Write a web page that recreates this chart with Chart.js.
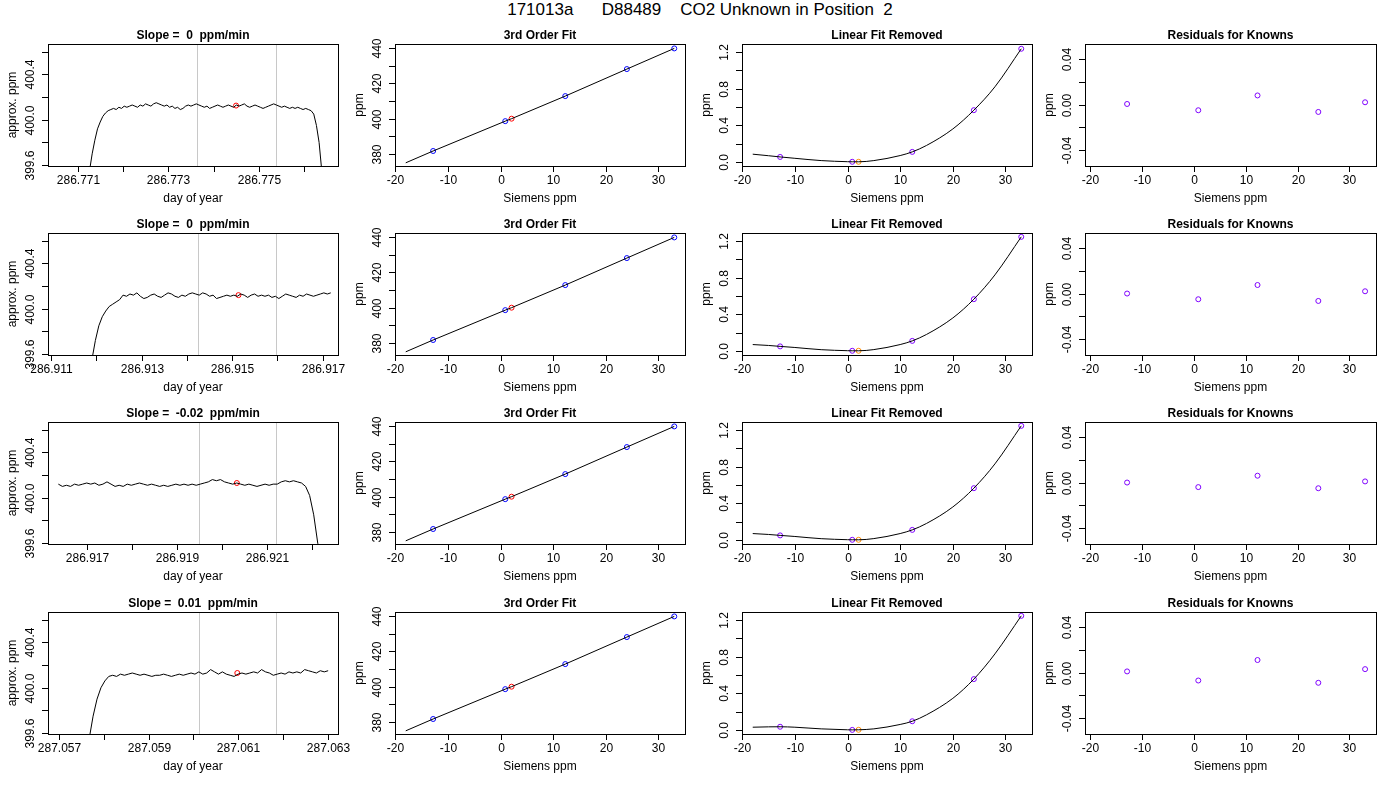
<!DOCTYPE html>
<html>
<head>
<meta charset="utf-8">
<script src="https://cdn.jsdelivr.net/npm/chart.js@4.4.1/dist/chart.umd.min.js"></script>
<style>
  body { margin: 0; background: #fff; width: 1400px; height: 800px; position: relative; overflow: hidden; }
  #title { position: absolute; top: 0px; left: 0; width: 1400px; text-align: center;
           font: 17px "Liberation Sans", Arial, sans-serif; white-space: pre; }
  canvas { position: absolute; }
</style>
</head>
<body>
<div id="title">171013a      D88489    CO2 Unknown in Position  2</div>

<script>
// ---- time series (column 1) ----
const slopeTitles = ['Slope =  0  ppm/min', 'Slope =  0  ppm/min', 'Slope =  -0.02  ppm/min', 'Slope =  0.01  ppm/min'];
const timeRanges = [[286.77033, 286.77676], [286.91093, 286.91734], [286.91613, 286.92258], [287.05675, 287.06323]];
const seriesSpans = [[286.77125, 286.77640], [286.91190, 286.91718], [286.91636, 286.92222], [287.05767, 287.06301]];
const windowLines = [[286.77364, 286.77538], [286.91425, 286.91597], [286.91949, 286.92120], [287.06013, 287.06185]];
const unknownPoints = [[286.7745, 400.125], [286.91514, 400.12], [286.92033, 400.13], [287.06098, 400.13]];
const timeTicks = [
  [286.771, 286.772, 286.773, 286.774, 286.775, 286.776],
  [286.911, 286.912, 286.913, 286.914, 286.915, 286.916, 286.917],
  [286.917, 286.918, 286.919, 286.920, 286.921, 286.922],
  [287.057, 287.058, 287.059, 287.060, 287.061, 287.062, 287.063]
];
const timeLabels = [
  ['286.771', '', '286.773', '', '286.775', ''],
  ['286.911', '', '286.913', '', '286.915', '', '286.917'],
  ['286.917', '', '286.919', '', '286.921', ''],
  ['287.057', '', '287.059', '', '287.061', '', '287.063']
];
const ppmRow1 = [399.55, 399.70, 399.82, 399.92, 399.98, 400.03, 400.06, 400.08, 400.09,
  400.10,400.09,400.11,400.10,400.12,400.11,400.12,400.13,400.12,400.11,
  400.13,400.12,400.14,400.13,400.12,400.14,400.15,400.14,400.13,400.12,
  400.13,400.11,400.12,400.10,400.11,400.09,400.10,400.12,400.13,400.12,
  400.13,400.14,400.13,400.12,400.11,400.12,400.10,400.11,400.12,400.13,
  400.12,400.11,400.12,400.13,400.12,400.11,400.13,400.12,400.13,400.14,
  400.12,400.11,400.12,400.13,400.12,400.11,400.10,400.11,400.12,400.13,
  400.14,400.13,400.12,400.11,400.12,400.11,400.10,400.11,400.10,400.11,
  400.10,400.09,400.10,400.09,400.08,
  400.05, 399.95, 399.80, 399.55];
const ppmRow2 = [399.55,399.72,399.85,399.93,399.98,400.02,400.04,400.06,400.08,400.12,
  400.11,400.13,400.12,400.14,400.11,400.09,400.10,400.12,400.13,400.11,
  400.10,400.12,400.14,400.13,400.11,400.10,400.12,400.11,400.13,400.14,
  400.13,400.12,400.14,400.13,400.11,400.12,400.09,400.10,400.11,400.12,
  400.11,400.12,400.11,400.13,400.12,400.10,400.12,400.13,400.11,400.12,
  400.11,400.12,400.10,400.11,400.09,400.11,400.13,400.12,400.11,400.10,
  400.12,400.11,400.13,400.12,400.11,400.12,400.13,400.14,400.13,400.14];
const ppmRow3 = [400.12,400.10,400.11,400.10,400.12,400.11,400.12,400.13,400.12,400.13,
  400.11,400.12,400.14,400.12,400.10,400.11,400.10,400.12,400.11,400.12,
  400.13,400.12,400.11,400.12,400.11,400.10,400.11,400.10,400.11,400.12,
  400.11,400.12,400.11,400.12,400.11,400.12,400.13,400.14,400.16,400.15,
  400.16,400.14,400.13,400.12,400.13,400.12,400.11,400.12,400.11,400.10,
  400.11,400.12,400.11,400.12,400.12,400.14,400.15,400.14,400.15,400.14,
  400.13, 400.10, 400.02, 399.85, 399.60, 399.45];
const ppmRow4 = [399.55,399.75,399.90,400.00,400.06,400.10,400.11,400.10,
  400.12,400.11,400.12,400.13,400.12,400.11,400.12,400.11,400.10,400.11,
  400.11,400.12,400.11,400.10,400.11,400.12,400.11,400.12,400.13,400.12,
  400.14,400.12,400.13,400.16,400.14,400.12,400.14,400.12,400.11,400.10,
  400.12,400.13,400.12,400.13,400.14,400.13,400.16,400.14,400.13,400.11,
  400.12,400.13,400.12,400.14,400.13,400.14,400.13,400.16,400.15,400.14,
  400.13,400.15,400.14,400.15];
const ppmRows = [ppmRow1, ppmRow2, ppmRow3, ppmRow4];

// ---- calibration (columns 2-4) ----
const knownX = [-12.8, 0.9, 12.3, 24.0, 33.0];
const unknownX = 2.1;
const fitLineX = [-18, -12.8, 0.9, 2.1, 12.3, 24.0, 33.0];
const fitLineY = [375.0, 381.7, 398.6, 400.0, 412.8, 428.1, 439.8];
const knownPpm = [381.7, 398.6, 412.8, 428.1, 439.8];
const unknownPpm = 400.0;

const curveX = [-18, -15, -12.8, -10, -5, 0, 0.9, 2.1, 5, 10, 12.3, 15, 20, 24, 28, 33];
const curveRows = [
  [0.085, 0.068, 0.055, 0.040, 0.015, 0.003, 0.002, 0.002, 0.015, 0.070, 0.110, 0.180, 0.360, 0.565, 0.820, 1.235],
  [0.070, 0.060, 0.050, 0.038, 0.014, 0.003, 0.002, 0.002, 0.015, 0.070, 0.110, 0.180, 0.360, 0.565, 0.830, 1.245],
  [0.070, 0.060, 0.050, 0.038, 0.014, 0.003, 0.002, 0.002, 0.015, 0.070, 0.110, 0.180, 0.360, 0.565, 0.830, 1.245],
  [0.030, 0.034, 0.035, 0.030, 0.012, 0.002, 0.001, 0.002, 0.012, 0.060, 0.095, 0.165, 0.345, 0.555, 0.830, 1.245]
];
const curvePointIdx = [2, 6, 10, 13, 15];   // where the knowns sit on the curve
const residualRows = [
  [0.0005, -0.005, 0.008, -0.0065, 0.002],
  [0.000, -0.005, 0.0075, -0.0065, 0.002],
  [0.000, -0.004, 0.006, -0.005, 0.001],
  [0.001, -0.007, 0.011, -0.009, 0.003]
];

const rowTops = [44, 233, 422, 612];
const colLefts = [48, 395, 742, 1085];
const colWidths = [290, 290, 290, 291];
const boxH = 122;
const FONT = '"Liberation Sans", Arial, sans-serif';

// R-style frame, ticks, rotated y labels, titles
const rAxes = {
  id: 'rAxes',
  afterDraw(chart) {
    const o = chart.options.plugins.rAxes;
    const ctx = chart.ctx, a = chart.chartArea;
    const xs = chart.scales.x, ys = chart.scales.y;
    ctx.save();
    ctx.strokeStyle = '#000'; ctx.lineWidth = 1; ctx.fillStyle = '#000';
    ctx.font = '12px ' + FONT;
    ctx.strokeRect(Math.round(a.left) + 0.5, Math.round(a.top) + 0.5, Math.round(a.width), Math.round(a.height));
    ctx.textAlign = 'center'; ctx.textBaseline = 'top';
    o.xTicks.forEach((v, i) => {
      const px = Math.round(xs.getPixelForValue(v)) + 0.5;
      ctx.beginPath(); ctx.moveTo(px, a.bottom); ctx.lineTo(px, a.bottom + 6); ctx.stroke();
      if (o.xLabels[i]) ctx.fillText(o.xLabels[i], px, a.bottom + 9);
    });
    o.yTicks.forEach((v, i) => {
      const py = Math.round(ys.getPixelForValue(v)) + 0.5;
      ctx.beginPath(); ctx.moveTo(a.left, py); ctx.lineTo(a.left - 6, py); ctx.stroke();
      if (o.yLabels[i]) {
        ctx.save(); ctx.translate(a.left - 17, py); ctx.rotate(-Math.PI / 2);
        ctx.textBaseline = 'middle'; ctx.fillText(o.yLabels[i], 0, 0); ctx.restore();
      }
    });
    ctx.fillText(o.xTitle, (a.left + a.right) / 2, a.bottom + 27);
    ctx.save(); ctx.translate(a.left - 35, (a.top + a.bottom) / 2); ctx.rotate(-Math.PI / 2);
    ctx.textBaseline = 'middle'; ctx.fillText(o.yTitle, 0, 0); ctx.restore();
    ctx.font = 'bold 12px ' + FONT; ctx.textBaseline = 'alphabetic';
    ctx.fillText(o.title, (a.left + a.right) / 2, a.top - 5);
    ctx.restore();
  },
  beforeDatasetsDraw(chart) {
    const o = chart.options.plugins.rAxes;
    if (!o.vLines) return;
    const ctx = chart.ctx, a = chart.chartArea;
    ctx.save(); ctx.strokeStyle = '#c8c8c8'; ctx.lineWidth = 1;
    o.vLines.forEach(v => {
      const px = Math.round(chart.scales.x.getPixelForValue(v)) + 0.5;
      ctx.beginPath(); ctx.moveTo(px, a.top); ctx.lineTo(px, a.bottom); ctx.stroke();
    });
    ctx.restore();
  }
};

function lineSet(pts, smooth) {
  return { data: pts, showLine: true, borderColor: '#000', borderWidth: 1, pointRadius: 0,
           tension: smooth ? 0.4 : 0, cubicInterpolationMode: smooth ? 'monotone' : 'default' };
}
function pointSet(pts, color) {
  return { data: pts, showLine: false, pointRadius: 2.5, pointBorderWidth: 1,
           pointBackgroundColor: 'rgba(0,0,0,0)', pointBorderColor: color };
}
function zip(xs, ys) { return xs.map((x, i) => ({ x: x, y: ys[i] })); }

function panel(row, col, datasets, xr, yr, axes) {
  const c = document.createElement('canvas');
  const w = colWidths[col] + 80, h = boxH + 70;
  c.width = w; c.height = h;
  c.style.left = (colLefts[col] - 50) + 'px';
  c.style.top = (rowTops[row] - 20) + 'px';
  c.style.width = w + 'px'; c.style.height = h + 'px';
  document.body.appendChild(c);
  new Chart(c, {
    type: 'scatter',
    data: { datasets: datasets },
    options: {
      responsive: false, animation: false, devicePixelRatio: 1,
      layout: { padding: { left: 50, right: 30, top: 20, bottom: 50 } },
      scales: {
        x: { type: 'linear', display: false, min: xr[0], max: xr[1] },
        y: { type: 'linear', display: false, min: yr[0], max: yr[1] }
      },
      plugins: { legend: { display: false }, tooltip: { enabled: false }, rAxes: axes }
    },
    plugins: [rAxes]
  });
}

const calX = [-20, -10, 0, 10, 20, 30];
const calXL = ['-20', '-10', '0', '10', '20', '30'];

for (let r = 0; r < 4; r++) {
  // column 1: time series
  const vals = ppmRows[r];
  const [t0, t1] = seriesSpans[r];
  const pts = vals.map((v, i) => ({ x: t0 + (t1 - t0) * i / (vals.length - 1), y: v }));
  panel(r, 0, [lineSet(pts), pointSet([{ x: unknownPoints[r][0], y: unknownPoints[r][1] }], '#ff0000')],
    timeRanges[r], [399.593, 400.667], {
      title: slopeTitles[r], xTitle: 'day of year', yTitle: 'approx. ppm',
      xTicks: timeTicks[r], xLabels: timeLabels[r],
      yTicks: [399.6, 399.8, 400.0, 400.2, 400.4, 400.6], yLabels: ['399.6', '', '400.0', '', '400.4', ''],
      vLines: windowLines[r]
    });

  // column 2: 3rd order fit
  panel(r, 1, [lineSet(zip(fitLineX, fitLineY)), pointSet(zip(knownX, knownPpm), '#0000ff'),
               pointSet([{ x: unknownX, y: unknownPpm }], '#ff0000')],
    [-20.04, 35.04], [373.2, 442.3], {
      title: '3rd Order Fit', xTitle: 'Siemens ppm', yTitle: 'ppm',
      xTicks: calX, xLabels: calXL,
      yTicks: [380, 390, 400, 410, 420, 430, 440], yLabels: ['380', '', '400', '', '420', '', '440']
    });

  // column 3: linear fit removed
  const cy = curveRows[r];
  panel(r, 2, [lineSet(zip(curveX, cy), true),
               pointSet(knownX.map((x, i) => ({ x: x, y: cy[curvePointIdx[i]] })), '#7f00ff'),
               pointSet([{ x: unknownX, y: cy[7] }], '#ff8c00')],
    [-20.04, 35.04], [-0.044, 1.287], {
      title: 'Linear Fit Removed', xTitle: 'Siemens ppm', yTitle: 'ppm',
      xTicks: calX, xLabels: calXL,
      yTicks: [0, 0.2, 0.4, 0.6, 0.8, 1.0, 1.2], yLabels: ['0.0', '', '0.4', '', '0.8', '', '1.2']
    });

  // column 4: residuals
  panel(r, 3, [pointSet(zip(knownX, residualRows[r]), '#7f00ff')],
    [-20.9, 35.1], [-0.054, 0.0532], {
      title: 'Residuals for Knowns', xTitle: 'Siemens ppm', yTitle: 'ppm',
      xTicks: calX, xLabels: calXL,
      yTicks: [-0.04, -0.02, 0, 0.02, 0.04], yLabels: ['-0.04', '', '0.00', '', '0.04']
    });
}
</script>
</body>
</html>
